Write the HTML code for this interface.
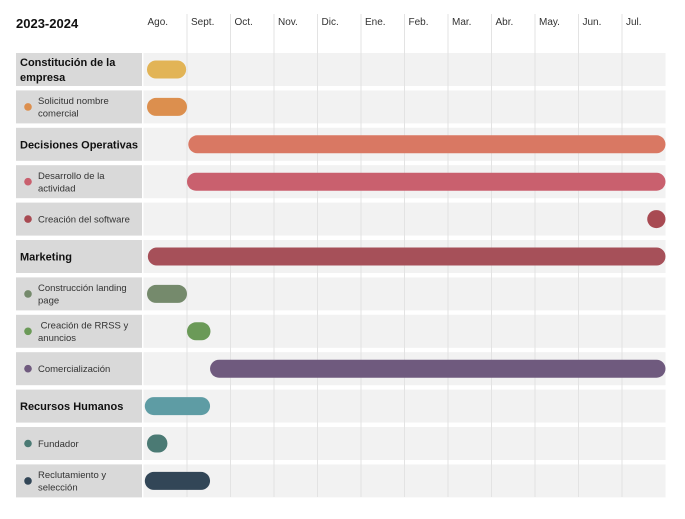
<!DOCTYPE html>
<html><head><meta charset="utf-8"><style>
body{margin:0;background:#fff;font-family:"Liberation Sans","DejaVu Sans",sans-serif;}
svg text{font-family:"Liberation Sans","DejaVu Sans",sans-serif;}
</style></head><body>
<svg id="c" width="685" height="514" xmlns="http://www.w3.org/2000/svg">
<text x="16" y="28" font-size="13" font-weight="bold" fill="#111">2023-2024</text>
</svg>
<script>
const months=["Ago.","Sept.","Oct.","Nov.","Dic.","Ene.","Feb.","Mar.","Abr.","May.","Jun.","Jul."];
const taskLabels=[["Constitución de la","empresa"],["Solicitud nombre","comercial"],["Decisiones Operativas"],["Desarrollo de la","actividad"],["Creación del software"],["Marketing"],["Construcción landing","page"],[" Creación de RRSS y","anuncios"],["Comercialización"],["Recursos Humanos"],["Fundador"],["Reclutamiento y","selección"]];
const isGroup=[true,false,true,false,false,true,false,false,false,true,false,false];
const starts=[0.08,0.08,1.03,1.0,11.58,0.1,0.08,1.0,1.53,0.03,0.08,0.03];
const ends=[0.98,1.0,12,12,12,12,1.0,1.54,12,1.53,0.55,1.53];
const colors=["#e2b456","#dc8f4e","#d97863","#c9606e","#a84a52","#a65059","#758a6c","#6b9a58","#6f5a7e","#5e9ca4","#4b7a74","#324657"];
const svg=document.getElementById('c');const NS="http://www.w3.org/2000/svg";
const x0=143.5,mw=43.5,y0=53,pitch=37.4,rh=33;
const xs=m=>x0+m*mw;const ys=i=>y0+i*pitch;
function mk(t,a,p){const e=document.createElementNS(NS,t);for(const k in a)e.setAttribute(k,a[k]);(p||svg).appendChild(e);return e;}
taskLabels.forEach((l,i)=>{
 const r=mk('rect',{x:x0,y:ys(i),width:xs(12)-x0,height:rh,fill:'#f2f2f2'});
 
 
 const lb=mk('rect',{x:16,y:ys(i),width:126,height:rh,fill:'#d9d9d9'});
 
 
});
months.forEach((m,i)=>{
 if(i>0){const g=mk('line',{x1:xs(i),x2:xs(i),y1:14,y2:497,stroke:'#e3e3e3','stroke-width':1});
 
 }
 const t=mk('text',{x:xs(i)+4,y:25,'font-size':10,fill:'#333'});t.textContent=m;
 
 
});
taskLabels.forEach((l,i)=>{
 const cy=ys(i)+rh/2;
 if(isGroup[i]){
  l.forEach((s,j)=>{const t=mk('text',{x:20,y:cy+4+(l.length>1?(j-0.5)*15:0),'font-size':11,'font-weight':'bold',fill:'#111'});t.textContent=s;
  
  });
 }else{
  const d=mk('circle',{cx:28,cy:cy,r:3.8,fill:colors[i]});
  
  
  l.forEach((s,j)=>{const t=mk('text',{x:38,y:cy+3.5+(l.length>1?(j-0.5)*12.5:0),'font-size':9.5,fill:'#333'});t.textContent=s.trim()===s?s:'\u00a0'+s.trim();
  
  });
 }
 const bx=xs(starts[i]),bw=Math.max(xs(ends[i])-bx,18);
 const b=mk('rect',{x:bx,y:cy-9,width:bw,height:18,rx:9,ry:9,fill:colors[i]});
 
 
});
</script>
</body></html>
